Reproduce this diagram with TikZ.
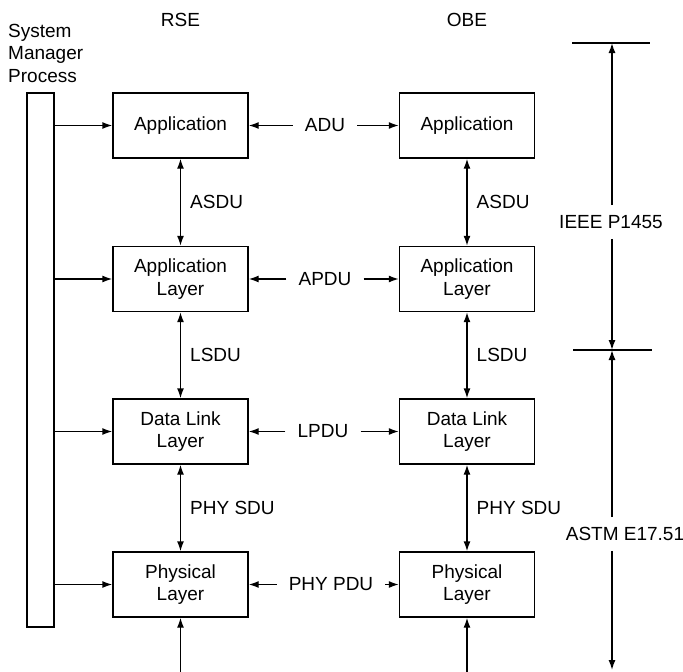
\documentclass[tikz,border=0pt]{standalone}
\usepackage{fontspec}
\setmainfont{Liberation Sans}
\usetikzlibrary{arrows.meta,positioning}

\begin{document}
\begin{tikzpicture}[x=1pt, y=-1pt,
      every node/.style={font=\fontsize{19}{22.5}\selectfont},
      layer/.style={draw, line width=1.4pt, minimum width=135pt, minimum height=65pt, align=center, inner sep=0pt},
      pdu/.style={inner xsep=12pt, inner ysep=4pt},
      sdu/.style={midway, right, inner xsep=9pt},
      arr/.style={-{Latex[length=10pt, width=7pt]}, line width=1.4pt},
      darr/.style={{Latex[length=10pt, width=7pt]}-{Latex[length=10pt, width=7pt]}, line width=1.4pt},
      tick/.style={line width=1.4pt}
    ]
    \useasboundingbox (0,0) rectangle (683,672);

    % column headings
    \node (rse) at (180.5,20) {RSE};
    \node (obe) at (467,20) {OBE};
    \node[align=left, anchor=west, inner sep=0pt] (smplabel) at (8,53) {System\\Manager\\Process};

    % system manager bar
    \node[draw, line width=1.4pt, minimum width=27pt, minimum height=534pt, inner sep=0pt] (smp) at (40.5,360) {};

    % RSE stack
    \node[layer] (appR)  at (180.5,125.5) {Application};
    \node[layer] (alR)   at (180.5,279)   {Application\\Layer};
    \node[layer] (dllR)  at (180.5,431.5) {Data Link\\Layer};
    \node[layer] (phyR)  at (180.5,584.5) {Physical\\Layer};

    % OBE stack
    \node[layer] (appO)  at (467,125.5) {Application};
    \node[layer] (alO)   at (467,279)   {Application\\Layer};
    \node[layer] (dllO)  at (467,431.5) {Data Link\\Layer};
    \node[layer] (phyO)  at (467,584.5) {Physical\\Layer};

    % peer protocol units between the stacks
    \node[pdu] (adu)  at (325,125.5) {ADU};
    \node[pdu] (apdu) at (325,279)   {APDU};
    \node[pdu] (lpdu) at (323,431.5) {LPDU};
    \node[pdu] (ppdu) at (331,584.5) {PHY PDU};

    \draw[arr] (adu) -- (appR);
    \draw[arr] (adu) -- (appO);
    \draw[arr] (apdu) -- (alR);
    \draw[arr] (apdu) -- (alO);
    \draw[arr] (lpdu) -- (dllR);
    \draw[arr] (lpdu) -- (dllO);
    \draw[arr] (ppdu) -- (phyR);
    \draw[arr] (ppdu) -- (phyO);

    % service data units down each stack
    \draw[darr] (appR) -- node[sdu]{ASDU} (alR);
    \draw[darr] (alR)  -- node[sdu]{LSDU} (dllR);
    \draw[darr] (dllR) -- node[sdu]{PHY SDU} (phyR);
    \draw[darr] (appO) -- node[sdu]{ASDU} (alO);
    \draw[darr] (alO)  -- node[sdu]{LSDU} (dllO);
    \draw[darr] (dllO) -- node[sdu]{PHY SDU} (phyO);

    % inputs from below
    \coordinate (inR) at (180.5,672);
    \coordinate (inO) at (467,672);
    \draw[arr] (inR) -- (phyR);
    \draw[arr] (inO) -- (phyO);

    % system manager to every layer
    \draw[arr] (smp.east |- appR) -- (appR);
    \draw[arr] (smp.east |- alR)  -- (alR);
    \draw[arr] (smp.east |- dllR) -- (dllR);
    \draw[arr] (smp.east |- phyR) -- (phyR);

    % standards ranges on the right
    \coordinate (top) at (612,43);
    \coordinate (split) at (612,350);
    \coordinate (bottom) at (612,670);
    \draw[tick] ([xshift=-40pt]top) -- ([xshift=38pt]top);
    \draw[tick] ([xshift=-39pt]split) -- ([xshift=40pt]split);

    \node[inner ysep=10pt] (ieee) at (611,222) {IEEE P1455};
    \node[inner ysep=10pt] (astm) at (625,534) {ASTM E17.51};
    \draw[arr] (ieee.north -| top) -- (top);
    \draw[arr] (ieee.south -| split) -- (split);
    \draw[arr] (astm.north -| split) -- (split);
    \draw[arr] (astm.south -| split) -- (bottom);
  \end{tikzpicture}
\end{document}
